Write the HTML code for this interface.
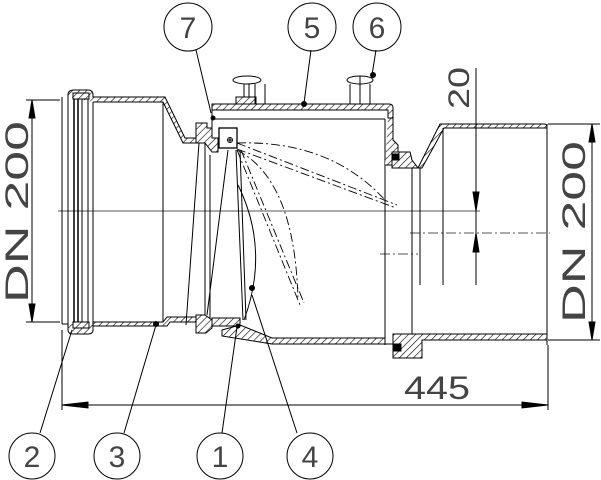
<!DOCTYPE html>
<html><head><meta charset="utf-8"><style>
html,body{margin:0;padding:0;background:#fff}
svg{display:block}
text{font-family:"Liberation Sans",sans-serif;fill:#444}
</style></head><body>
<svg width="601" height="480" viewBox="0 0 601 480" xmlns="http://www.w3.org/2000/svg">
<defs>
<pattern id="h" width="5" height="5" patternUnits="userSpaceOnUse" patternTransform="rotate(45)">
<rect width="5" height="5" fill="#fff"/><line x1="0" y1="0" x2="0" y2="5" stroke="#000" stroke-width="1.2"/>
</pattern>
</defs>
<g stroke="#000" fill="none" stroke-width="1">
<line x1="58" y1="211" x2="480" y2="211" stroke="#555"/>
<line x1="410" y1="233" x2="550" y2="233" stroke="#555" stroke-dasharray="10,3,2,3"/>
<line x1="380" y1="254" x2="418" y2="254" stroke="#555" stroke-dasharray="10,3,2,3"/>

<path d="M68 97 L68 95 Q68 90 74 90 L88 90 Q93 90 93 95 L93 97 L165 97 L185 138 L205 138 L205 143 L183 143 L163 102 L93 102" fill="url(#h)"/>
<line x1="62" y1="97" x2="62" y2="324"/>
<line x1="68" y1="97" x2="68" y2="324"/>
<rect x="73" y="93" width="16" height="6" fill="url(#h)"/>
<line x1="74" y1="99" x2="74" y2="322" stroke-width="1.5"/>
<line x1="78" y1="99" x2="78" y2="322" stroke-width="1.5"/>
<line x1="82" y1="99" x2="82" y2="322"/>
<line x1="88" y1="99" x2="88" y2="322"/>
<line x1="93" y1="102" x2="93" y2="322"/>
<line x1="163" y1="102" x2="163" y2="322"/>
<path d="M62 324 L68 324 L68 330 Q68 334 73 334 L88 334 Q93 334 93 330 L93 324" fill="url(#h)"/>
<path d="M93 322 L163 322 L167 317 L200 317 L200 322 L170 322 L167 326 L93 326 Z" fill="url(#h)"/>
<rect x="73" y="322" width="16" height="6" fill="url(#h)"/>

<path d="M199 143 L186 325"/>
<path d="M205 143 L205 320"/>
<path d="M210 155 L210 318"/>
<path d="M228 150 L207 315"/>
<path d="M236 150 L243 320"/>
<path d="M240 150 L246 320"/>
<path d="M196 123 L207 123 L207 128 L212 128 L212 138 L218 138 L218 152 L212 152 L205 143 L196 143 Z" fill="url(#h)"/>
<rect x="219" y="128" width="18" height="20" fill="#fff" stroke-width="1.3"/>
<circle cx="230" cy="140" r="2.5"/>
<line x1="228" y1="140" x2="232" y2="140"/><line x1="230" y1="138" x2="230" y2="142"/>
<path d="M196 315 L205 315 L212 320 L212 328 L206 333 L196 333 Z" fill="url(#h)"/>
<path d="M212 318 L240 318 L240 326 L212 326 Z" fill="url(#h)"/>

<path d="M212 110 L212 104 L389 104 Q393 104 393 108 L393 118 L388 118 L388 110 Z" fill="url(#h)"/>
<line x1="212" y1="119" x2="385" y2="119"/>
<line x1="212" y1="110" x2="212" y2="128"/>
<rect x="236" y="97" width="20" height="7" fill="url(#h)"/>
<line x1="244" y1="83" x2="244" y2="97"/><line x1="249" y1="83" x2="249" y2="97"/>
<ellipse cx="247" cy="80" rx="14" ry="4" fill="#fff"/>
<line x1="255" y1="84" x2="255" y2="104"/><line x1="265" y1="84" x2="265" y2="104"/>
<ellipse cx="360" cy="80" rx="13" ry="4" fill="#fff"/>
<line x1="350" y1="84" x2="350" y2="104"/><line x1="370" y1="84" x2="370" y2="104"/>
<line x1="360" y1="76" x2="360" y2="104"/>

<line x1="385" y1="119" x2="385" y2="345"/>
<path d="M388 118 L393 118 L393 140 L398 145 L398 158 L392 165 L385 165" fill="url(#h)"/>
<path d="M392 152 L410 152 L412 160 L418 168 L392 168 Z" fill="url(#h)"/>
<rect x="393" y="154" width="6" height="6" fill="#000"/>
<line x1="412" y1="168" x2="412" y2="340"/>

<path d="M418 168 L440 124 L544 124 Q547 124 547 127 L547 128 L444 128 L422 168 Z" fill="url(#h)"/>
<line x1="420" y1="168" x2="420" y2="285"/>
<line x1="443" y1="128" x2="443" y2="285"/>
<line x1="547" y1="124" x2="547" y2="345"/>
<path d="M393 334 L547 334 L547 340 L422 340 L422 358 L393 358 Z" fill="url(#h)"/>
<rect x="394" y="344" width="7" height="7" fill="#000"/>

<path d="M222 330 L240 325 L272 338 L385 338 L385 344 L272 344 L222 336 Z" fill="url(#h)"/>
<line x1="385" y1="344" x2="393" y2="344"/>

<path d="M237 143 L397 205 M237 149 L396 208" stroke-dasharray="9,3,2,3" stroke-width="0.9"/>
<path d="M237 143 Q330 140 385 200" stroke-dasharray="9,3,2,3" stroke-width="0.9"/>
<path d="M237 150 L300 305 M241 150 L304 303" stroke-dasharray="9,3,2,3" stroke-width="0.9"/>
<path d="M237 150 Q295 180 298 300" stroke-dasharray="9,3,2,3" stroke-width="0.9"/>
<path d="M238 185 Q270 250 244 320" stroke-width="1"/>

<line x1="26" y1="100" x2="60" y2="100"/>
<line x1="26" y1="322" x2="60" y2="322"/>
<line x1="32" y1="100" x2="32" y2="322"/>
<path d="M32 100 L29 118 L35 118Z M32 322 L29 304 L35 304Z" fill="#000"/>
<line x1="548" y1="124" x2="600" y2="124"/>
<line x1="548" y1="340" x2="600" y2="340"/>
<line x1="592" y1="124" x2="592" y2="340"/>
<path d="M592 124 L589 142 L595 142Z M592 340 L589 322 L595 322Z" fill="#000"/>
<line x1="476" y1="68" x2="476" y2="285"/>
<path d="M476 211 L473 192 L479 192Z M476 233 L473 252 L479 252Z" fill="#000"/>
<line x1="62" y1="330" x2="62" y2="410"/>
<line x1="548" y1="345" x2="548" y2="410"/>
<line x1="62" y1="405" x2="548" y2="405"/>
<path d="M62 405 L88 402 L88 408Z M548 405 L522 402 L522 408Z" fill="#000"/>

<line x1="196" y1="50" x2="211" y2="113"/>
<line x1="311" y1="50" x2="304" y2="103"/>
<line x1="376" y1="50" x2="372" y2="75"/>
<line x1="40" y1="433" x2="72" y2="330"/>
<line x1="124" y1="433" x2="156" y2="325"/>
<line x1="222" y1="433" x2="237" y2="327"/>
<line x1="297" y1="433" x2="252" y2="295"/>
<g fill="#000" stroke="none">
<circle cx="304" cy="104" r="3"/><circle cx="373" cy="75" r="3"/>
<circle cx="156" cy="324" r="3"/><circle cx="238" cy="326" r="2.5"/>
<circle cx="252" cy="288" r="3"/><circle cx="213" cy="118" r="2.5"/>
</g>
<circle cx="188" cy="27" r="24"/>
<circle cx="312" cy="27" r="24"/>
<circle cx="377" cy="27" r="24"/>
<circle cx="32" cy="456" r="23"/>
<circle cx="117" cy="456" r="23"/>
<circle cx="220" cy="456" r="23"/>
<circle cx="310" cy="456" r="23"/>
</g>
<g font-size="30" text-anchor="middle">
<text x="188" y="38">7</text>
<text x="312" y="38">5</text>
<text x="377" y="38">6</text>
<text x="32" y="467">2</text>
<text x="117" y="467">3</text>
<text x="220" y="467">1</text>
<text x="310" y="467">4</text>
<text x="437" y="399" font-size="32" textLength="66" lengthAdjust="spacingAndGlyphs">445</text>
<text transform="translate(28,212) rotate(-90)" font-size="32" textLength="182" lengthAdjust="spacingAndGlyphs" fill="#555">DN 200</text>
<text transform="translate(585,232) rotate(-90)" font-size="32" textLength="182" lengthAdjust="spacingAndGlyphs" fill="#555">DN 200</text>
<text transform="translate(469,88) rotate(-90)" font-size="30" textLength="42" lengthAdjust="spacingAndGlyphs">20</text>
</g>
</svg>
</body></html>
